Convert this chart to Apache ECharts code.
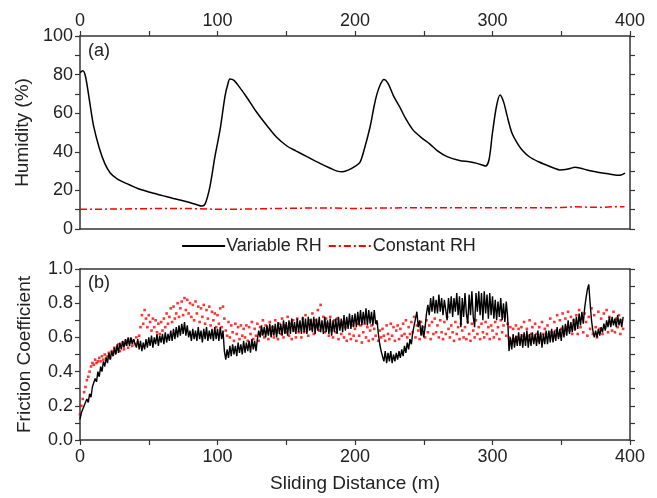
<!DOCTYPE html>
<html>
<head>
<meta charset="utf-8">
<script src="https://cdn.jsdelivr.net/npm/echarts@6/dist/echarts.min.js"></script>
<style>
  html, body {margin: 0; padding: 0; background: #fff;}
  #main {width: 657px; height: 498px;}
</style>
</head>
<body>
<div id="main"></div>
<script>
// (a) humidity, variable RH
const humDist = [0, 2, 4, 7, 10, 14, 18, 22, 27, 34, 42, 51, 60, 68, 77, 85, 88.5, 91, 94.5, 98,
  102, 105.5, 107.5, 109, 112, 116, 121, 128, 136, 143, 150.5, 157, 165, 174.5, 182, 187, 191, 195, 200, 203.6,
  207, 211, 214, 216, 218.5, 221, 224, 228, 232.7, 237, 242, 248, 254.5, 260, 267, 276, 283, 288.7, 292, 295,
  297.5, 300, 303, 305.5, 308, 310.5, 314, 318, 322, 327, 333, 339.6, 345, 349, 353, 357, 360, 364, 368.7, 374,
  380, 385, 390.5, 393.5, 396.4];
const humVariable = [81, 82, 79, 66, 53, 42, 34, 29, 26, 23.5, 21, 19, 17.3, 15.8, 14.2, 12.6, 11.9, 13, 22, 37,
  52, 69, 75, 77.7, 77, 73.5, 68.5, 61, 53.5, 47.5, 43, 40.5, 37.5, 34, 31.5, 30, 29.7, 30.5, 32.5, 34.5,
  42, 53, 64, 70, 75, 77.5, 75.5, 69, 63, 57, 51.5, 47.5, 44, 40.5, 37.5, 35.5, 34.8, 34, 33.3, 32.6,
  36, 50, 64, 69.4, 66, 59, 50, 44.5, 40.5, 37.3, 35, 33, 31.5, 30.6, 30.8, 31.5, 32, 31.5, 30.6, 29.8,
  29, 28.5, 27.8, 28, 29];

// (a) humidity, constant RH
const humConstDist = [0, 20, 40, 60, 80, 100, 120, 140, 160, 180, 200, 220, 240, 260, 280, 300, 320, 340, 350, 360, 370, 380, 390, 396];
const humConstant = [10.2, 10.3, 10.5, 10.6, 10.6, 10.2, 10.3, 10.6, 10.8, 10.9, 10.6, 10.9, 11.0, 11.0, 11.0, 11.0, 11.0, 11.0, 11.2, 11.5, 11.3, 11.2, 11.6, 11.5];

// (b) friction coefficient, one reading per metre from 0 m (20 per row)
const frictionStep = 1;
const frictionVariable = [
  0.12, 0.16, 0.15, 0.20, 0.19, 0.24, 0.22, 0.27, 0.25, 0.31, 0.32, 0.36, 0.34, 0.40, 0.37, 0.43, 0.40, 0.46, 0.43, 0.48,
  0.45, 0.51, 0.47, 0.52, 0.49, 0.54, 0.50, 0.56, 0.51, 0.57, 0.53, 0.58, 0.54, 0.59, 0.55, 0.60, 0.55, 0.60, 0.56, 0.59,
  0.60, 0.54, 0.59, 0.53, 0.58, 0.52, 0.57, 0.53, 0.59, 0.54, 0.60, 0.55, 0.61, 0.54, 0.60, 0.56, 0.62, 0.55, 0.61, 0.57,
  0.62, 0.56, 0.63, 0.57, 0.62, 0.58, 0.64, 0.58, 0.65, 0.59, 0.66, 0.60, 0.67, 0.61, 0.68, 0.62, 0.69, 0.61, 0.67, 0.60,
  0.64, 0.58, 0.65, 0.59, 0.64, 0.58, 0.66, 0.59, 0.64, 0.57, 0.65, 0.59, 0.66, 0.58, 0.64, 0.59, 0.65, 0.58, 0.66, 0.59,
  0.65, 0.58, 0.66, 0.59, 0.64, 0.52, 0.47, 0.53, 0.48, 0.55, 0.49, 0.56, 0.50, 0.55, 0.49, 0.57, 0.51, 0.56, 0.50, 0.58,
  0.51, 0.57, 0.52, 0.58, 0.51, 0.59, 0.53, 0.58, 0.52, 0.59, 0.64, 0.60, 0.67, 0.61, 0.66, 0.60, 0.67, 0.61, 0.68, 0.60,
  0.67, 0.61, 0.68, 0.60, 0.69, 0.62, 0.68, 0.61, 0.70, 0.62, 0.69, 0.61, 0.70, 0.62, 0.71, 0.63, 0.69, 0.62, 0.71, 0.63,
  0.70, 0.62, 0.72, 0.63, 0.71, 0.62, 0.72, 0.64, 0.71, 0.63, 0.72, 0.62, 0.71, 0.64, 0.72, 0.63, 0.70, 0.62, 0.72, 0.63,
  0.70, 0.62, 0.71, 0.61, 0.70, 0.63, 0.71, 0.62, 0.72, 0.64, 0.71, 0.63, 0.73, 0.64, 0.72, 0.65, 0.74, 0.65, 0.73, 0.66,
  0.74, 0.66, 0.75, 0.67, 0.76, 0.67, 0.75, 0.68, 0.77, 0.67, 0.76, 0.68, 0.75, 0.67, 0.76, 0.68, 0.70, 0.62, 0.56, 0.52,
  0.51, 0.46, 0.52, 0.45, 0.51, 0.46, 0.52, 0.45, 0.50, 0.46, 0.51, 0.47, 0.52, 0.48, 0.53, 0.49, 0.55, 0.51, 0.57, 0.53,
  0.59, 0.56, 0.63, 0.62, 0.71, 0.75, 0.66, 0.70, 0.61, 0.67, 0.60, 0.66, 0.74, 0.79, 0.73, 0.83, 0.75, 0.84, 0.74, 0.82,
  0.74, 0.85, 0.75, 0.83, 0.73, 0.82, 0.76, 0.70, 0.83, 0.74, 0.84, 0.72, 0.83, 0.75, 0.86, 0.73, 0.84, 0.66, 0.83, 0.72,
  0.86, 0.74, 0.68, 0.85, 0.73, 0.87, 0.72, 0.66, 0.86, 0.75, 0.87, 0.73, 0.86, 0.70, 0.87, 0.74, 0.85, 0.71, 0.86, 0.73,
  0.84, 0.71, 0.82, 0.70, 0.81, 0.72, 0.83, 0.70, 0.80, 0.69, 0.81, 0.72, 0.52, 0.60, 0.53, 0.62, 0.54, 0.61, 0.55, 0.63,
  0.55, 0.62, 0.54, 0.63, 0.55, 0.64, 0.54, 0.62, 0.55, 0.63, 0.56, 0.62, 0.55, 0.64, 0.56, 0.63, 0.54, 0.62, 0.56, 0.64,
  0.56, 0.64, 0.57, 0.65, 0.57, 0.64, 0.58, 0.66, 0.59, 0.65, 0.58, 0.67, 0.60, 0.68, 0.61, 0.70, 0.62, 0.69, 0.63, 0.71,
  0.64, 0.72, 0.65, 0.74, 0.67, 0.75, 0.68, 0.77, 0.83, 0.88, 0.91, 0.80, 0.70, 0.64, 0.60, 0.64, 0.60, 0.65, 0.61, 0.66,
  0.63, 0.68, 0.64, 0.70, 0.66, 0.72, 0.66, 0.72, 0.67, 0.71, 0.66, 0.73, 0.67, 0.71, 0.66, 0.72
];
const frictionConstant = [
  0.15, 0.20, 0.24, 0.28, 0.31, 0.35, 0.37, 0.40, 0.43, 0.45, 0.44, 0.47, 0.45, 0.46, 0.48, 0.46, 0.49, 0.47, 0.50, 0.48,
  0.49, 0.51, 0.48, 0.52, 0.50, 0.54, 0.51, 0.53, 0.56, 0.52, 0.55, 0.57, 0.53, 0.56, 0.58, 0.54, 0.57, 0.59, 0.55, 0.58,
  0.56, 0.60, 0.57, 0.61, 0.66, 0.73, 0.68, 0.76, 0.71, 0.66, 0.73, 0.69, 0.64, 0.71, 0.66, 0.70, 0.63, 0.68, 0.62, 0.69,
  0.64, 0.71, 0.66, 0.74, 0.68, 0.72, 0.77, 0.69, 0.78, 0.71, 0.74, 0.80, 0.72, 0.77, 0.81, 0.73, 0.83, 0.76, 0.82, 0.74,
  0.80, 0.72, 0.79, 0.70, 0.81, 0.74, 0.78, 0.69, 0.77, 0.72, 0.79, 0.68, 0.76, 0.71, 0.78, 0.67, 0.75, 0.70, 0.74, 0.66,
  0.73, 0.68, 0.77, 0.66, 0.78, 0.71, 0.64, 0.61, 0.69, 0.60, 0.67, 0.63, 0.58, 0.68, 0.62, 0.66, 0.59, 0.67, 0.61, 0.65,
  0.60, 0.67, 0.58, 0.66, 0.62, 0.69, 0.59, 0.65, 0.61, 0.68, 0.58, 0.66, 0.62, 0.70, 0.60, 0.67, 0.63, 0.59, 0.69, 0.62,
  0.66, 0.60, 0.70, 0.63, 0.59, 0.68, 0.62, 0.71, 0.60, 0.67, 0.63, 0.72, 0.61, 0.68, 0.59, 0.70, 0.64, 0.60, 0.71, 0.63,
  0.67, 0.60, 0.71, 0.63, 0.73, 0.64, 0.61, 0.70, 0.65, 0.74, 0.62, 0.70, 0.66, 0.76, 0.64, 0.79, 0.67, 0.72, 0.63, 0.71,
  0.68, 0.61, 0.72, 0.64, 0.60, 0.70, 0.63, 0.71, 0.59, 0.67, 0.62, 0.69, 0.60, 0.66, 0.58, 0.68, 0.62, 0.59, 0.67, 0.61,
  0.65, 0.58, 0.68, 0.61, 0.67, 0.57, 0.63, 0.68, 0.60, 0.66, 0.58, 0.64, 0.67, 0.59, 0.65, 0.61, 0.68, 0.58, 0.64, 0.60,
  0.65, 0.61, 0.58, 0.67, 0.62, 0.59, 0.68, 0.61, 0.66, 0.58, 0.64, 0.67, 0.59, 0.65, 0.61, 0.68, 0.62, 0.70, 0.60, 0.66,
  0.62, 0.69, 0.63, 0.72, 0.60, 0.67, 0.64, 0.59, 0.69, 0.62, 0.66, 0.60, 0.70, 0.63, 0.67, 0.59, 0.69, 0.62, 0.71, 0.63,
  0.67, 0.60, 0.70, 0.63, 0.59, 0.69, 0.62, 0.72, 0.65, 0.60, 0.67, 0.63, 0.58, 0.69, 0.62, 0.66, 0.59, 0.68, 0.64, 0.60,
  0.66, 0.59, 0.69, 0.62, 0.58, 0.68, 0.64, 0.60, 0.70, 0.62, 0.66, 0.59, 0.68, 0.63, 0.60, 0.69, 0.62, 0.66, 0.59, 0.67,
  0.64, 0.60, 0.69, 0.62, 0.66, 0.59, 0.70, 0.63, 0.67, 0.72, 0.61, 0.68, 0.60, 0.66, 0.58, 0.65, 0.59, 0.67, 0.60, 0.65,
  0.59, 0.66, 0.61, 0.69, 0.59, 0.65, 0.61, 0.70, 0.62, 0.66, 0.59, 0.68, 0.62, 0.58, 0.66, 0.61, 0.69, 0.62, 0.65, 0.60,
  0.67, 0.62, 0.71, 0.63, 0.60, 0.69, 0.64, 0.73, 0.61, 0.70, 0.65, 0.74, 0.62, 0.71, 0.66, 0.75, 0.64, 0.72, 0.62, 0.70,
  0.65, 0.73, 0.62, 0.76, 0.66, 0.71, 0.63, 0.74, 0.69, 0.61, 0.72, 0.65, 0.77, 0.62, 0.73, 0.66, 0.60, 0.75, 0.65, 0.71,
  0.62, 0.74, 0.66, 0.76, 0.63, 0.72, 0.68, 0.64, 0.75, 0.63, 0.71, 0.66, 0.73, 0.62, 0.70, 0.65
];

const font = 'Liberation Sans, Arial, sans-serif';
const ink = '#222';
const axisLine = {show: true, onZero: false, lineStyle: {color: '#333', width: 1.5}};
const tick = {show: true, length: 5, lineStyle: {color: '#333', width: 1.2}};
const label = {color: ink, fontSize: 18, fontFamily: font};

const chart = echarts.init(document.getElementById('main'));

const xBase = (grid, position) => ({
  type: 'value', gridIndex: grid, position, min: 0, max: 400, interval: 50,
  axisLine, splitLine: {show: false}
});
const yBase = (grid, position, max, interval) => ({
  type: 'value', gridIndex: grid, position, min: 0, max, interval,
  axisLine, splitLine: {show: false}
});

chart.setOption({
  animation: false,
  backgroundColor: '#fff',
  textStyle: {fontFamily: font},
  grid: [
    {left: 80, right: 27, top: 36, height: 193},
    {left: 80, right: 27, top: 269, height: 171}
  ],
  legend: {
    data: ['Variable RH', 'Constant RH'],
    top: 232, left: 'center',
    itemWidth: 43, itemHeight: 14, itemGap: 6,
    itemStyle: {opacity: 0},
    textStyle: {color: ink, fontSize: 18, fontFamily: font, padding: [0, 0, 0, -4]}
  },
  graphic: [
    {type: 'text', left: 88, top: 42, style: {text: '(a)', fontSize: 18, fontFamily: font, fill: ink}},
    {type: 'text', left: 88, top: 274, style: {text: '(b)', fontSize: 18, fontFamily: font, fill: ink}}
  ],
  xAxis: [
    Object.assign(xBase(0, 'top'), {
      axisTick: tick,
      axisLabel: Object.assign({margin: 6, formatter: v => v % 100 === 0 ? v : ''}, label)
    }),
    Object.assign(xBase(0, 'bottom'), {axisTick: {show: false}, axisLabel: {show: false}}),
    Object.assign(xBase(1, 'bottom'), {
      axisTick: tick,
      axisLabel: Object.assign({margin: 8, formatter: v => v % 100 === 0 ? v : ''}, label),
      name: 'Sliding Distance (m)', nameLocation: 'middle', nameGap: 34,
      nameTextStyle: {color: ink, fontSize: 19, fontFamily: font}
    }),
    Object.assign(xBase(1, 'top'), {axisTick: {show: false}, axisLabel: {show: false}})
  ],
  yAxis: [
    Object.assign(yBase(0, 'left', 100, 10), {
      axisTick: tick,
      axisLabel: Object.assign({margin: 7, formatter: v => v % 20 === 0 ? v : ''}, label),
      name: 'Humidity (%)', nameLocation: 'middle', nameGap: 46,
      nameTextStyle: {color: ink, fontSize: 19, fontFamily: font}
    }),
    Object.assign(yBase(0, 'right', 100, 10), {axisTick: tick, axisLabel: {show: false}}),
    Object.assign(yBase(1, 'left', 1, 0.1), {
      axisTick: tick,
      axisLabel: Object.assign({margin: 7, formatter: v => Math.round(v * 10) % 2 === 0 ? v.toFixed(1) : ''}, label),
      name: 'Friction Coefficient', nameLocation: 'middle', nameGap: 46,
      nameTextStyle: {color: ink, fontSize: 19, fontFamily: font}
    }),
    Object.assign(yBase(1, 'right', 1, 0.1), {axisTick: tick, axisLabel: {show: false}})
  ],
  series: [
    {
      name: 'Variable RH', type: 'line', xAxisIndex: 0, yAxisIndex: 0,
      symbol: 'none', smooth: 0.3, color: '#000',
      lineStyle: {color: '#000', width: 1.5},
      data: humDist.map((d, i) => [d, humVariable[i]])
    },
    {
      name: 'Constant RH', type: 'line', xAxisIndex: 0, yAxisIndex: 0,
      symbol: 'none', color: '#ff0000',
      lineStyle: {color: '#ff0000', width: 1.5, type: [7, 3, 2, 3]},
      data: humConstDist.map((d, i) => [d, humConstant[i]])
    },
    {
      name: 'Variable RH friction', type: 'line', xAxisIndex: 2, yAxisIndex: 2,
      symbol: 'none', color: '#000',
      lineStyle: {color: '#000', width: 1.4},
      data: frictionVariable.map((v, i) => [i * frictionStep, v])
    },
    {
      name: 'Constant RH friction', type: 'scatter', xAxisIndex: 2, yAxisIndex: 2,
      symbol: 'rect', symbolSize: 2.6, color: '#ff0000',
      itemStyle: {color: '#ff0000'},
      data: frictionConstant.map((v, i) => [i * frictionStep, v])
    }
  ]
});
</script>
</body>
</html>
